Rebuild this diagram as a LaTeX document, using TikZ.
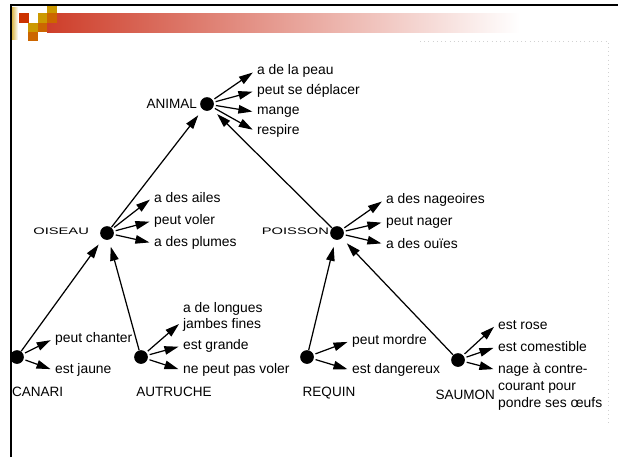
\documentclass[tikz,border=0pt]{standalone}
\usepackage{fontspec}
\usepackage{graphicx}
\setmainfont{Liberation Sans}
\usetikzlibrary{arrows.meta}
\definecolor{tplred}{RGB}{204,51,0}
\definecolor{tplgold}{RGB}{204,153,0}
\definecolor{tplorange}{RGB}{204,102,0}
\definecolor{barred}{RGB}{206,62,42}

\begin{document}
\begin{tikzpicture}[x=0.02cm,y=-0.02cm,
  dotnode/.style={circle,fill,inner sep=0pt,minimum size=7.8pt},
  featnode/.style={anchor=west,inner sep=1pt,align=left,font=\fontsize{7.9}{9.2}\selectfont},
  taxon/.style={inner sep=1pt,font=\fontsize{7.7}{9}\selectfont},
  taxonsmall/.style={inner sep=1pt,font=\fontsize{5.4}{6}\selectfont},
  isa/.style={-{Triangle[length=2.8mm,width=1.7mm]},line width=0.7pt,shorten >=4pt},
  has/.style={-{Triangle[length=2.8mm,width=1.7mm]},line width=0.7pt,shorten <=1pt,shorten >=1.5pt}]
\useasboundingbox (0,0) rectangle (618,457);

% header
\shade[left color=tplgold!70!white,right color=white] (12,7) rectangle (18,39);
\shade[left color=barred,right color=white] (47,13) rectangle (520,32);
\fill[tplgold] (47,4) rectangle (56.5,13);
\fill[tplred] (19,13) rectangle (28.5,22.5);
\fill[tplgold] (37.5,13) rectangle (47,22.5);
\fill[tplorange] (47,13) rectangle (56.5,22.5);
\fill[tplgold] (28,22.5) rectangle (37.5,32);
\fill[tplorange] (37.5,22.5) rectangle (47,32);
\fill[tplorange] (28,32) rectangle (37.5,41);
\draw[gray!35,dotted] (420,41) -- (608,41) -- (608,425);

% animal
\node[dotnode] (animal) at (207,104) {};
\node[taxon,anchor=east] (l-animal) at (199,104) {ANIMAL};
\node[featnode] (a1) at (255,71) {a de la peau};
\node[featnode] (a2) at (255,91) {peut se déplacer};
\node[featnode] (a3) at (255,112) {mange};
\node[featnode] (a4) at (255,131) {respire};

% oiseau
\node[dotnode] (oiseau) at (107,233) {};
\node[taxonsmall,anchor=east] (l-oiseau) at (91,231) {\scalebox{1.55}[1]{OISEAU}};
\node[featnode] (o1) at (152,198) {a des ailes};
\node[featnode] (o2) at (152,221) {peut voler};
\node[featnode] (o3) at (152,243) {a des plumes};

% poisson
\node[dotnode] (poisson) at (337,233) {};
\node[taxonsmall,anchor=east] (l-poisson) at (331,231) {\scalebox{1.55}[1]{POISSON}};
\node[featnode] (p1) at (384,200) {a des nageoires};
\node[featnode] (p2) at (384,222) {peut nager};
\node[featnode] (p3) at (384,244) {a des ouïes};

% canari
\node[dotnode] (canari) at (17,357) {};
\node[taxon,anchor=west] (l-canari) at (10,392) {CANARI};
\node[featnode] (c1) at (53,339) {peut chanter};
\node[featnode] (c2) at (53,370) {est jaune};

% autruche
\node[dotnode] (autruche) at (141,357) {};
\node[taxon] (l-autruche) at (174,392) {AUTRUCHE};
\node[featnode] (t1) at (181,317) {a de longues\\jambes fines};
\node[featnode] (t2) at (181,346) {est grande};
\node[featnode] (t3) at (181,370) {ne peut pas voler};

% requin
\node[dotnode] (requin) at (307,357) {};
\node[taxon] (l-requin) at (329,393) {REQUIN};
\node[featnode] (r1) at (350,341) {peut mordre};
\node[featnode] (r2) at (350,370) {est dangereux};

% saumon
\node[dotnode] (saumon) at (458,360) {};
\node[taxon,anchor=east] (l-saumon) at (497,395) {SAUMON};
\node[featnode] (s1) at (496,325) {est rose};
\node[featnode] (s2) at (496,347) {est comestible};
\node[featnode,anchor=north west,font=\fontsize{7.9}{9.6}\selectfont] (s3) at (496,361) {nage à contre-\\courant pour\\pondre ses œufs};

% is-a links
\draw[isa] (canari) -- (oiseau);
\draw[isa] (autruche) -- (oiseau);
\draw[isa] (requin) -- (poisson);
\draw[isa] (saumon) -- (poisson);
\draw[isa] (oiseau) -- (animal);
\draw[isa] (poisson) -- (animal);

% properties
\draw[has] (animal) -- (a1.west);
\draw[has] (animal) -- (a2.west);
\draw[has] (animal) -- (a3.west);
\draw[has] (animal) -- (a4.west);
\draw[has] (oiseau) -- (o1.west);
\draw[has] (oiseau) -- (o2.west);
\draw[has] (oiseau) -- (o3.west);
\draw[has] (poisson) -- (p1.west);
\draw[has] (poisson) -- (p2.west);
\draw[has] (poisson) -- (p3.west);
\draw[has] (canari) -- (c1.west);
\draw[has] (canari) -- (c2.west);
\draw[has] (autruche) -- ([yshift=-3pt]t1.west);
\draw[has] (autruche) -- (t2.west);
\draw[has] (autruche) -- (t3.west);
\draw[has] (requin) -- (r1.west);
\draw[has] (requin) -- (r2.west);
\draw[has] (saumon) -- (s1.west);
\draw[has] (saumon) -- (s2.west);
\draw[has] (saumon) -- ([yshift=-5pt]s3.north west);

% frame
\draw[line width=1.2pt] (11,457) -- (11,5) -- (618,5);
\end{tikzpicture}
\end{document}
